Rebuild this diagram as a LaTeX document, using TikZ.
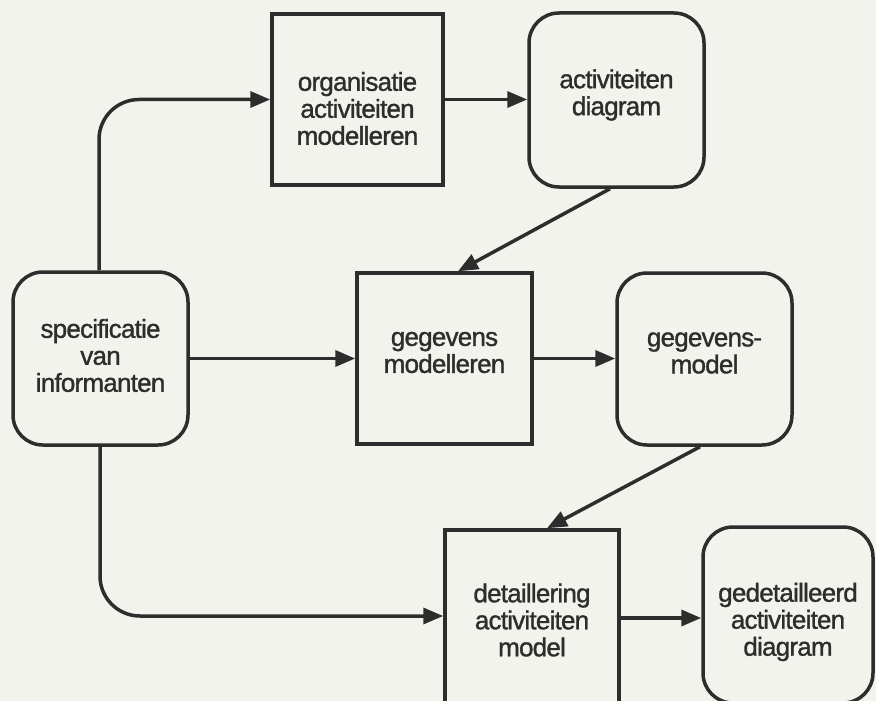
\documentclass[tikz,border=0pt]{standalone}
\usepackage{fontspec}
\setmainfont{Liberation Sans}[FakeBold=1.2, LetterSpace=-3]
\usetikzlibrary{arrows.meta}
\definecolor{paper}{RGB}{243,243,238}
\definecolor{ink}{RGB}{45,45,45}
\tikzset{
  box/.style={draw=ink, line width=3.5pt, inner sep=0pt},
  sqbox/.style={box},
  rbox/.style={box, rounded corners=30pt},
  lbl/.style={text=ink, align=center, font=\fontsize{26}{27}\selectfont, inner sep=0pt},
  conn/.style={draw=ink, line width=3.5pt,
    -{Triangle[length=20pt,width=16pt]}},
}
\begin{document}
\begin{tikzpicture}[x=1pt,y=-1pt]
  \fill[paper] (0,0) rectangle (876,701);
  \useasboundingbox (0,0) rectangle (876,701);

  \node[sqbox, minimum width=171pt, minimum height=171pt] (org) at (357.5,99.5) {};
  \node[lbl] (orgt) at (357.5,108.5) {organisatie\\activiteiten\\modelleren};

  \node[rbox, minimum width=175pt, minimum height=174pt] (act) at (616.5,100) {};
  \node[lbl] (actt) at (616.5,95) {activiteiten\\diagram};

  \node[rbox, minimum width=175pt, minimum height=173pt] (spec) at (100.5,358.5) {};
  \node[lbl] (spect) at (100.5,355.5) {specificatie\\van\\informanten};

  \node[sqbox, minimum width=175pt, minimum height=171pt] (gm) at (444.5,358.5) {};
  \node[lbl] (gmt) at (444.5,352.5) {gegevens\\modelleren};

  \node[rbox, minimum width=175pt, minimum height=172pt] (gmod) at (704.5,359) {};
  \node[lbl] (gmodt) at (704.5,353) {gegevens-\\model};

  \node[sqbox, minimum width=174pt, minimum height=180pt] (det) at (532,620) {};
  \node[lbl] (dett) at (532,620) {detaillering\\activiteiten\\model};

  \node[rbox, minimum width=170pt, minimum height=176pt] (ged) at (788,615) {};
  \node[lbl] (gedt) at (788,622) {gedetailleerd\\activiteiten\\diagram};

  \draw[conn, rounded corners=40pt] ([xshift=-1.5pt]spec.north) |- (org.west);
  \draw[conn] (org.east) -- (org.east -| act.west);
  \draw[conn] ([xshift=-6.5pt]act.south) -- ([xshift=13.5pt]gm.north);
  \draw[conn] (spec.east) -- (gm.west);
  \draw[conn] (gm.east) -- (gm.east -| gmod.west);
  \draw[conn] ([xshift=-4.5pt]gmod.south) -- ([xshift=15pt]det.north);
  \draw[conn, rounded corners=40pt] ([xshift=-0.5pt]spec.south) |- ([yshift=4pt]det.west);
  \draw[conn] ([yshift=2pt]det.east) -- ([yshift=2pt]det.east -| ged.west);
\end{tikzpicture}
\end{document}
